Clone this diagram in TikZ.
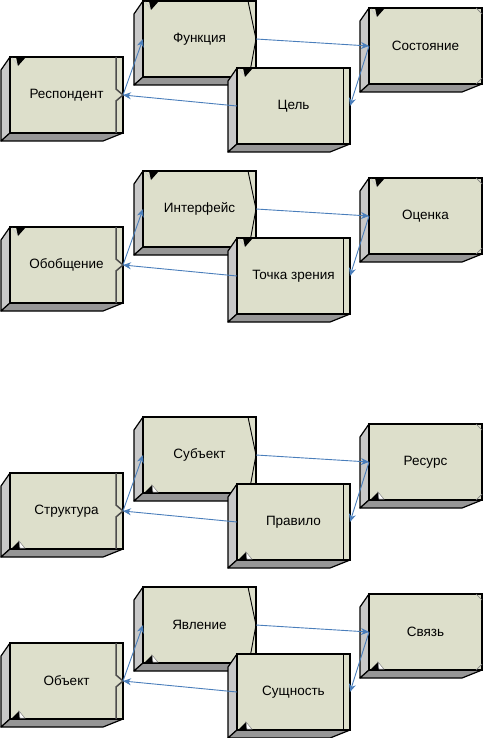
\documentclass[tikz,border=0pt]{standalone}
\usepackage{fontspec}
\setmainfont{Liberation Sans}
\usetikzlibrary{arrows.meta,calc}

\definecolor{facecol}{RGB}{221,223,203}
\definecolor{sidecol}{RGB}{200,200,200}
\definecolor{basecol}{RGB}{150,150,150}
\definecolor{linkcol}{RGB}{74,126,187}

\tikzset{
  front/.style={draw=black,line width=1.5pt,fill=facecol,minimum width=113pt,
    minimum height=76pt,inner sep=0pt,outer sep=0pt,anchor=north west,
    font=\fontsize{13.5}{15}\selectfont},
  sideface/.style={draw=black,line width=1.2pt,fill=sidecol,line join=round},
  baseface/.style={draw=black,line width=1.2pt,fill=basecol,line join=round},
  link/.style={draw=linkcol,line width=0.9pt,-{Stealth[length=8pt,width=7pt]}}
}

% box with side and bottom faces: name, x, y (top left of front), text
\newcommand{\solidbox}[4]{%
  \filldraw[sideface] (#2,#3) -- (#2-9,#3+13) -- (#2-9,#3+84) -- (#2,#3+76) -- cycle;
  \filldraw[baseface] (#2,#3+76) -- (#2-9,#3+84) -- (#2+93,#3+84) -- (#2+113,#3+76) -- cycle;
  \node[front] (#1) at (#2,#3) {#4};
}
\newcommand{\topnotch}[1]{%
  \draw[white!60!gray,line width=0.8pt] ($(#1.north west)+(2,1)$) -- ($(#1.north west)+(8,8)$);
  \fill ($(#1.north west)+(6,0)$) -- ($(#1.north west)+(16,0)$) -- ($(#1.north west)+(8,9)$) -- cycle;
}
\newcommand{\botnotch}[1]{%
  \fill ($(#1.south west)+(1,0)$) -- ($(#1.south west)+(9,-8)$) -- ($(#1.south west)+(10,0)$) -- cycle;
  \filldraw[fill=white,draw=gray,line width=0.5pt] ($(#1.south west)+(9,-8)$) -- ($(#1.south west)+(15,-0.8)$) -- ($(#1.south west)+(10,-0.8)$) -- cycle;
}

\begin{document}
\begin{tikzpicture}[x=1pt,y=-1pt]
\useasboundingbox (0,0) rectangle (483,738);

\foreach \dy/\ta/\tb/\tc/\td/\mk in
  {0/Респондент/Функция/Цель/Состояние/top,
   170/Обобщение/Интерфейс/Точка зрения/Оценка/top,
   416/Структура/Субъект/Правило/Ресурс/bot,
   586/Объект/Явление/Сущность/Связь/bot}{
  % left
  \solidbox{left\dy}{10}{\dy+57}{\ta}
  \draw[gray!60!black,line width=1.5pt] ($(left\dy.north east)+(-7,0)$) -- ($(left\dy.east)+(-7,-6)$)
    -- (left\dy.east) -- ($(left\dy.east)+(-7,6)$) -- ($(left\dy.south east)+(-7,0)$);
  \csname\mk notch\endcsname{left\dy}
  % upper
  \solidbox{upper\dy}{143}{\dy+1}{\tb}
  \draw[line width=0.9pt] ($(upper\dy.north east)+(-8,0)$) -- (upper\dy.east)
    -- ($(upper\dy.south east)+(-7,0)$);
  \csname\mk notch\endcsname{upper\dy}
  % lower
  \solidbox{lower\dy}{237}{\dy+68}{\tc}
  \draw[line width=0.9pt] ($(lower\dy.north east)+(-7,0)$) -- ($(lower\dy.south east)+(-7,0)$);
  \csname\mk notch\endcsname{lower\dy}
  % right
  \solidbox{right\dy}{369}{\dy+8}{\td}
  \draw[gray,line width=0.7pt] ($(right\dy.north east)+(-6,0)$) -- ($(right\dy.north east)+(0,6)$);
  \draw[gray,line width=0.7pt] ($(right\dy.south east)+(0,-6)$) -- ($(right\dy.south east)+(-6,0)$);
  \csname\mk notch\endcsname{right\dy}

  \draw[link] (left\dy.east) -- (upper\dy.west);
  \draw[link] (upper\dy.east) -- (right\dy.west);
  \draw[link] (right\dy.west) -- (lower\dy.east);
  \draw[link] (lower\dy.west) -- (left\dy.east);
}
\end{tikzpicture}
\end{document}
